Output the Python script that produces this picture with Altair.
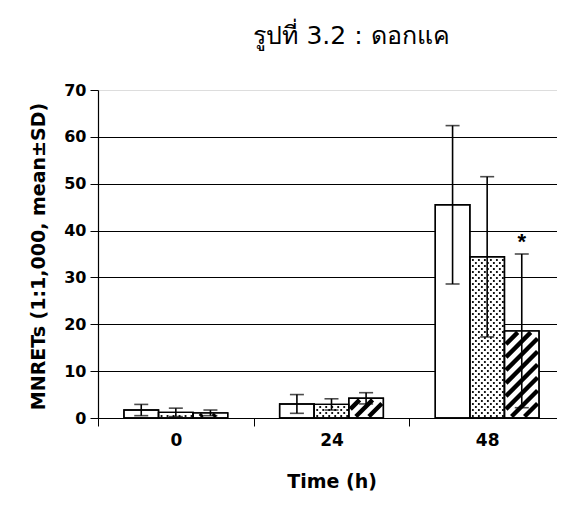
import altair as alt
import pandas as pd

# ---- data ----
times = ["0", "24", "48"]
series = ["s1", "s2", "s3"]          # white, dotted, hatched
means = {
    "s1": [1.7, 3.0, 45.5],
    "s2": [1.2, 2.9, 34.4],
    "s3": [1.1, 4.2, 18.6],
}
sds = {
    "s1": [1.2, 2.0, 16.9],
    "s2": [0.9, 1.2, 17.1],
    "s3": [0.6, 1.2, 16.4],
}
star_series = "s3"
star_time = "48"

title_text = "รูปที่ 3.2 : ดอกแค"
y_title = "MNRETs (1:1,000, mean±SD)"
x_title = "Time (h)"

# ---- layout ----
W, H = 467, 328
YMAX = 70
PXX = W / len(times)      # px per category unit
PXY = H / YMAX            # px per y unit
BW = 1 / 4.5              # bar width in category units (gap 150%)
FONT = "DejaVu Sans"

rows = []
for i, t in enumerate(times):
    start = i + 0.5 - 1.5 * BW
    for j, s in enumerate(series):
        x0 = start + j * BW
        rows.append(dict(time=t, series=s, x0=x0, x1=x0 + BW, xc=x0 + BW / 2,
                         mean=means[s][i], sd=sds[s][i],
                         lo=max(means[s][i] - sds[s][i], 0), hi=means[s][i] + sds[s][i], zero=0))
df = pd.DataFrame(rows)

# dotted texture for series 2 (generated from bar extents)
dots = []
for r in df[df.series == "s2"].itertuples():
    bh = r.mean * PXY
    k = 0
    v = 2.0
    while v < bh - 1:
        u = 3.0 if k % 2 == 0 else 6.0
        while u < BW * PXX - 1.5:
            dots.append(dict(x=r.x0 + u / PXX, y=v / PXY))
            u += 6.0
        v += 3.0
        k += 1
dots_df = pd.DataFrame(dots)

# hatched texture for series 3 (45 deg stripes clipped to bar)
stripes = []
INSET = 1.5
PERIOD = 13.0
for r in df[df.series == "s3"].itertuples():
    bw = BW * PXX - 2 * INSET
    bh = r.mean * PXY - 2 * INSET
    c = -bw - PERIOD
    while c < bh + PERIOD:
        ua, ub = max(0.0, -c), min(bw, bh - c)
        if ub - ua > 0.5:
            stripes.append(dict(
                x=r.x0 + (ua + INSET) / PXX, x2=r.x0 + (ub + INSET) / PXX,
                y=(ua + c + INSET) / PXY, y2=(ub + c + INSET) / PXY))
        c += PERIOD
stripes_df = pd.DataFrame(stripes)

star_df = df[(df.series == star_series) & (df.time == star_time)].copy()

xscale = alt.Scale(domain=[0, len(times)], nice=False, zero=False)
yscale = alt.Scale(domain=[0, YMAX], nice=False)

label_expr = " : ".join(
    f"datum.value == {i + 0.5} ? '{t}'" for i, t in enumerate(times)) + " : ''"

xaxis = alt.Axis(
    values=[v / 2 for v in range(0, 2 * len(times) + 1)],
    labelExpr=label_expr,
    tickOpacity={"condition": {"test": "datum.value % 1 != 0", "value": 0}, "value": 1},
    tickSize=8, tickColor="black", tickWidth=1,
    domainColor="black", domainWidth=1.2,
    labelFont=FONT, labelFontSize=17, labelFontWeight="bold", labelColor="black",
    labelPadding=6, grid=False,
    title=x_title, titleFont=FONT, titleFontSize=19, titleFontWeight="bold", titleColor="black",
    titleX=W / 2, titleY=63, titleBaseline="middle", titleAlign="center",
)
yaxis = alt.Axis(
    values=list(range(0, YMAX + 1, 10)),
    tickSize=8, tickColor="black", tickWidth=1,
    domainColor="black", domainWidth=1.2,
    labelFont=FONT, labelFontSize=16, labelFontWeight="bold", labelColor="black",
    labelPadding=4,
    grid=True, gridColor="black", gridWidth=1,
    gridOpacity={"condition": {"test": "datum.value == 0 || datum.value == 70", "value": 0}, "value": 1},
    title=y_title, titleFont=FONT, titleFontSize=19, titleFontWeight="bold", titleColor="black",
    titleX=-60, titleY=H / 2 + 2, titleAngle=270, titleBaseline="middle", titleAlign="center",
)

X = lambda f: alt.X(f, scale=xscale, axis=xaxis)
Y = lambda f: alt.Y(f, scale=yscale, axis=yaxis)

base = alt.Chart(df)

bars = base.mark_rect(fill="white", stroke="black", strokeWidth=1.4).encode(
    x=X("x0:Q"), x2="x1:Q", y=Y("mean:Q"), y2="zero:Q",
)

dot_layer = alt.Chart(dots_df).mark_square(size=3.4, color="black", opacity=1).encode(
    x=X("x:Q"), y=Y("y:Q"),
)

stripe_layer = alt.Chart(stripes_df).mark_rule(color="black", strokeWidth=4.4, strokeCap="butt").encode(
    x=X("x:Q"), x2="x2:Q", y=Y("y:Q"), y2="y2:Q",
)

outline = base.mark_rect(fill="white", fillOpacity=0, stroke="black", strokeWidth=1.4).encode(
    x=X("x0:Q"), x2="x1:Q", y=Y("mean:Q"), y2="zero:Q",
)

err = base.mark_rule(color="black", strokeWidth=1.6).encode(
    x=X("xc:Q"), y=Y("lo:Q"), y2="hi:Q",
)
cap_hi = base.mark_tick(color="black", orient="horizontal", size=14, thickness=1.6).encode(
    x=X("xc:Q"), y=Y("hi:Q"),
)
cap_lo = base.mark_tick(color="black", orient="horizontal", size=14, thickness=1.6).encode(
    x=X("xc:Q"), y=Y("lo:Q"),
)

star = alt.Chart(star_df).mark_text(text="*", font="Liberation Sans", fontSize=22, fontWeight="bold",
                                    color="black", baseline="middle", dy=-12).encode(
    x=X("xc:Q"), y=Y("hi:Q"),
)

chart = alt.layer(bars, dot_layer, stripe_layer, outline, err, cap_hi, cap_lo, star).properties(
    width=W, height=H,
    title=alt.TitleParams(title_text, font=FONT, fontSize=25, fontWeight="normal", color="black",
                          anchor="middle", dx=20, offset=33),
    autosize=alt.AutoSizeParams(type="none"),
    padding={"left": 90, "top": 82, "right": -8, "bottom": 78},
).configure_view(stroke="#999999", strokeWidth=2).configure(background="white")

chart.save("out.html", embed_options={"renderer": "svg", "actions": False})
